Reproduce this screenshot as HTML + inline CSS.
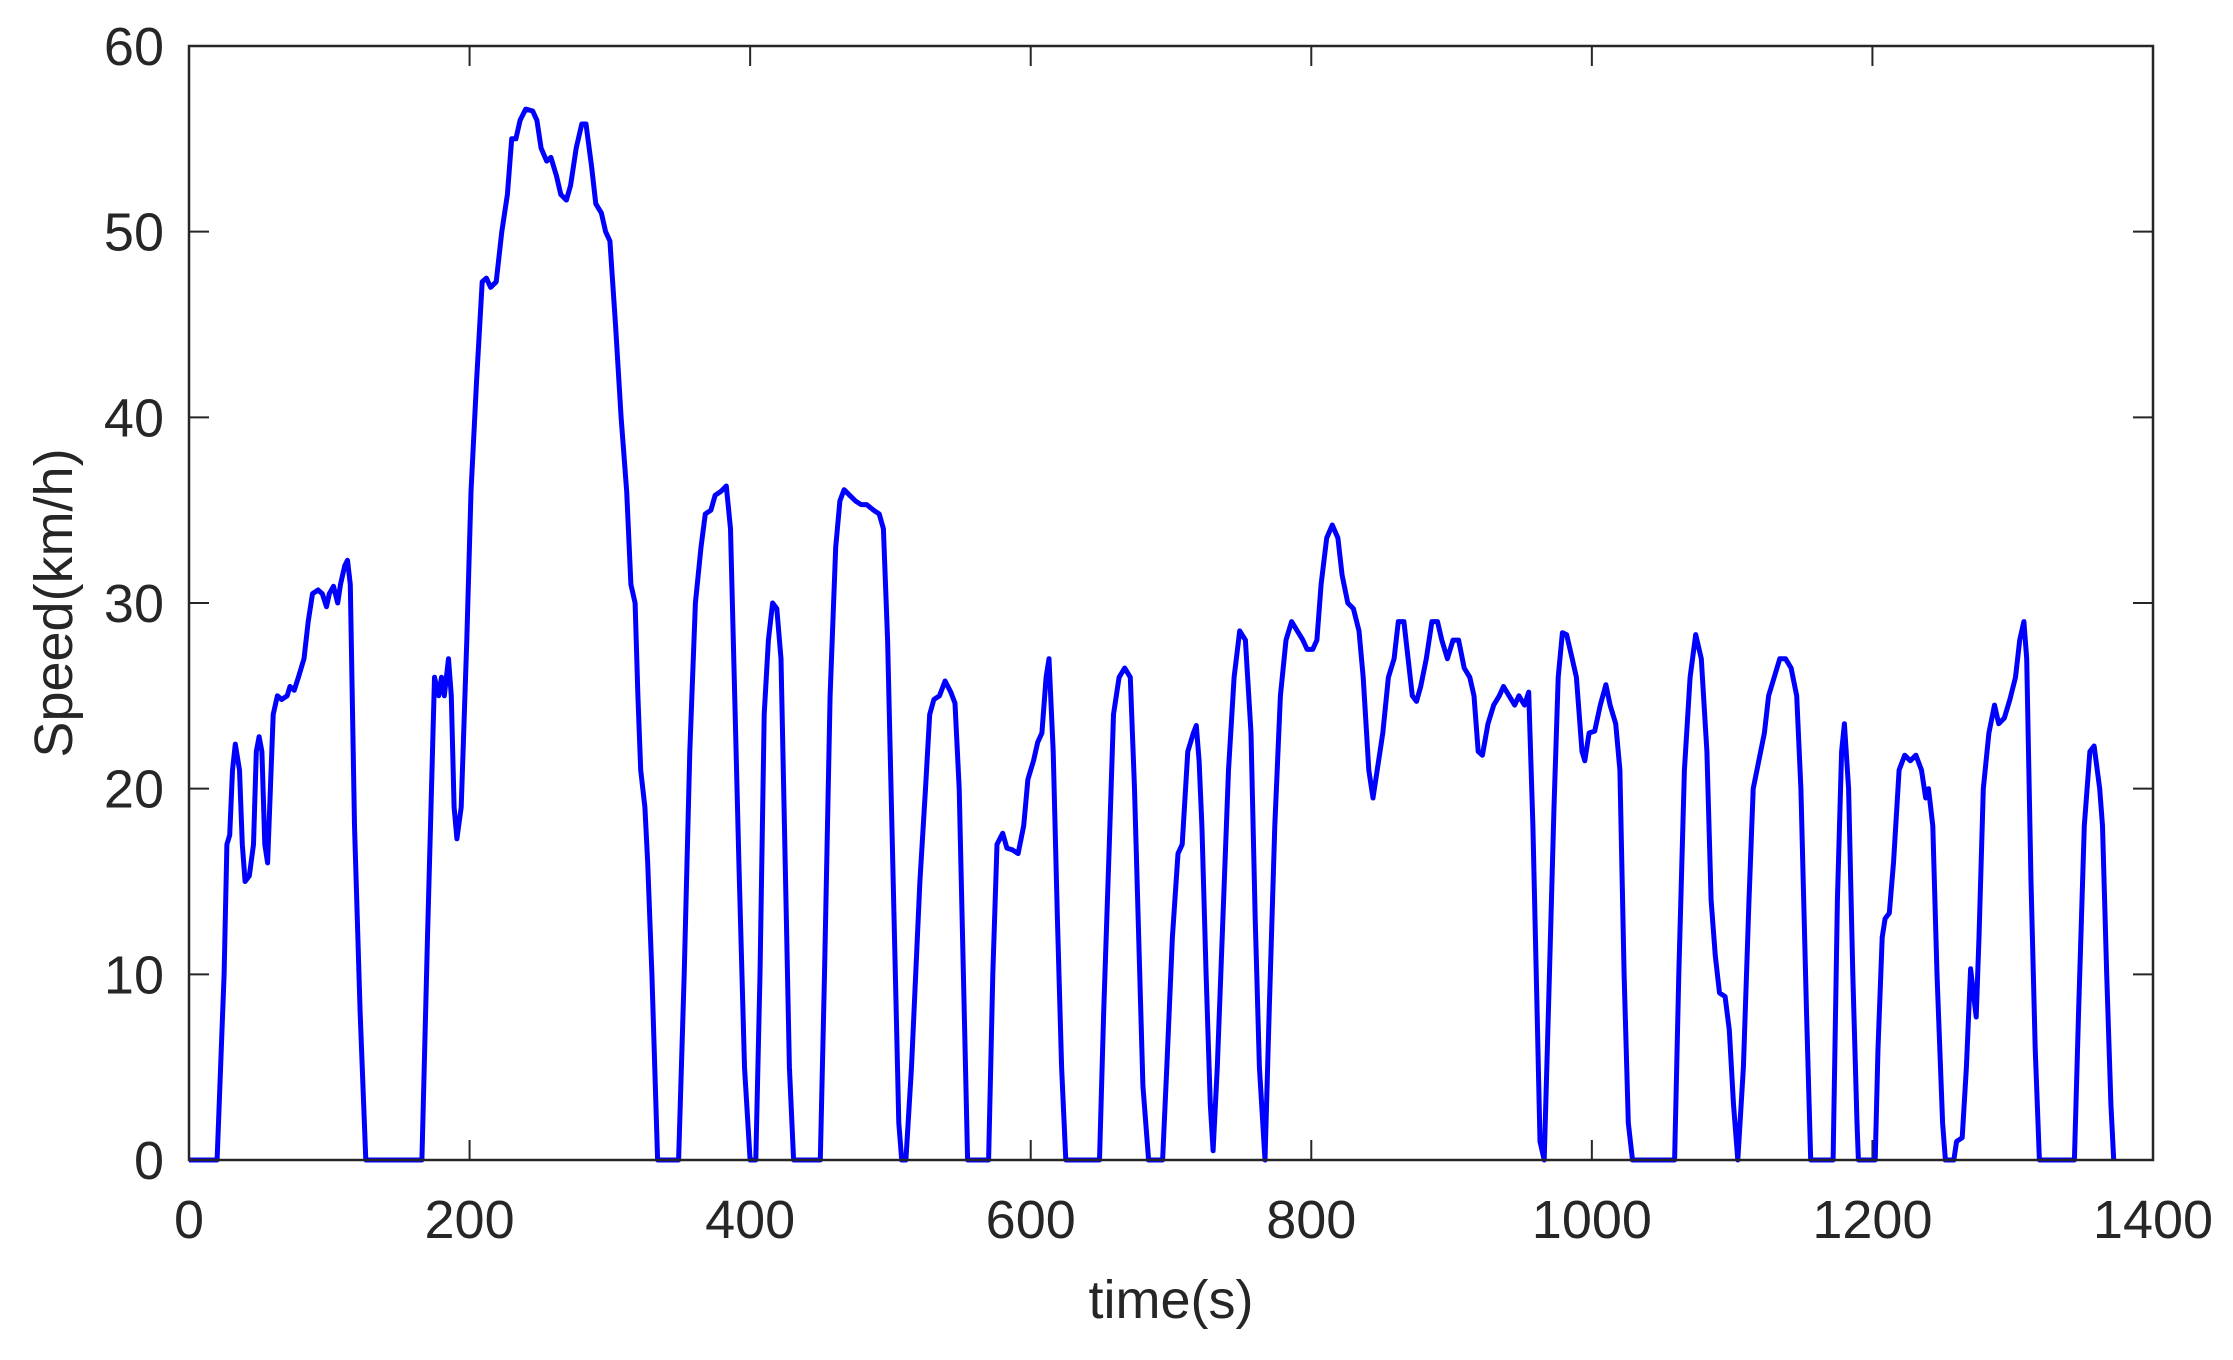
<!DOCTYPE html>
<html><head><meta charset="utf-8"><style>
html,body{margin:0;padding:0;background:#fff;}
svg{display:block;font-family:"Liberation Sans",Arial,sans-serif;}
</style></head><body>
<svg id="chart" width="2233" height="1360" viewBox="0 0 2233 1360" xmlns="http://www.w3.org/2000/svg">
<rect width="2233" height="1360" fill="#fff"/>
<g id="ticks"></g>
<path id="series" fill="none" stroke="#0000ff" stroke-width="5" stroke-linejoin="round"/>
<rect x="189" y="46" width="1964" height="1114" fill="none" stroke="#262626" stroke-width="2.5"/>
<text x="1171" y="1318" font-size="54" text-anchor="middle" fill="#262626">time(s)</text>
<text transform="translate(72,603) rotate(-90)" font-size="54" text-anchor="middle" fill="#262626">Speed(km/h)</text>
</svg>
<script>
const times=[0,20,25,27,29,31,33,36,38,40,43,46,48,50,52,54,56,58,60,63,66,70,72,75,78,82,85,88,92,95,98,100,103,106,108,111,113,115,118,122,126,166,170,175,178,180,182,185,187,189,191,194,198,201,205,209,212,215,219,223,227,230,233,236,240,245,248,251,255,258,262,265,269,272,276,280,283,287,290,294,297,300,304,308,312,315,318,320,322,325,327,330,334,349,353,357,361,365,368,372,375,379,383,386,389,392,396,400,404,407,410,413,416,419,422,425,428,431,450,453,457,461,464,467,471,475,479,483,488,492,495,498,502,506,508,511,515,518,521,525,528,531,535,539,543,546,549,552,555,570,573,576,580,583,587,591,595,598,602,605,608,611,613,616,619,622,625,649,652,656,659,663,667,671,674,677,680,684,694,697,701,705,708,712,716,718,720,722,725,728,730,733,737,741,745,749,753,757,760,763,767,770,774,778,782,786,790,794,797,801,804,807,811,815,819,822,826,830,834,837,841,844,847,851,855,859,862,866,869,872,875,878,882,886,890,893,897,901,905,909,913,916,919,922,926,930,934,937,941,945,948,952,955,958,961,963,966,969,973,976,979,982,986,989,993,995,998,1002,1006,1010,1013,1017,1020,1023,1026,1029,1059,1062,1066,1070,1074,1078,1082,1085,1088,1091,1095,1098,1101,1104,1108,1112,1115,1119,1123,1126,1130,1134,1138,1142,1146,1149,1153,1156,1172,1175,1178,1180,1183,1186,1189,1190,1202,1204,1207,1209,1212,1215,1219,1223,1227,1231,1235,1238,1240,1243,1246,1250,1252,1258,1260,1264,1267,1270,1272,1274,1276,1279,1283,1287,1290,1294,1298,1302,1305,1308,1310,1313,1316,1319,1344,1347,1351,1355,1358,1362,1364,1367,1370,1372];
const speeds=[0,0,10,17,17.5,21,22.4,21,17,15,15.3,17,22,22.8,22,17,16,20,24,25,24.8,25,25.5,25.3,26,27,29,30.5,30.7,30.5,29.8,30.5,30.9,30,31,32,32.3,31,18,8,0,0,12,26,25,26,25,27,25,19,17.3,19,28,36,42,47.3,47.5,47,47.3,50,52,55,55,56,56.6,56.5,56,54.5,53.8,54,53,52,51.7,52.5,54.5,55.8,55.8,53.5,51.5,51,50,49.5,45,40,36,31,30,25,21,19,16,10,0,0,10,22,30,33,34.8,35,35.8,36,36.3,34,25,16,5,0,0,10,24,28,30,29.7,27,16,5,0,0,10,25,33,35.5,36.1,35.8,35.5,35.3,35.3,35,34.8,34,28,15,2,0,0,5,10,15,20,24,24.8,25,25.8,25.2,24.6,20,10,0,0,10,17,17.6,16.8,16.7,16.5,18,20.5,21.5,22.5,23,26,27,22,13,5,0,0,8,17,24,26,26.5,26,20,12,4,0,0,5,12,16.5,17,22,23,23.4,21.5,18,10,3,0.5,5,13,21,26,28.5,28,23,13,5,0,8,18,25,28,29,28.5,28,27.5,27.5,28,31,33.5,34.2,33.5,31.5,30,29.7,28.5,26,21,19.5,21,23,26,27,29,29,27,25,24.7,25.5,27,29,29,28,27,28,28,26.5,26,25,22,21.8,23.5,24.5,25,25.5,25,24.5,25,24.5,25.2,18,8,1,0,8,19,26,28.4,28.3,27,26,22,21.5,23,23.1,24.5,25.6,24.5,23.5,21,10,2,0,0,10,21,26,28.3,27,22,14,11,9,8.8,7,3,0,5,14,20,21.5,23,25,26,27,27,26.5,25,20,8,0,0,14,22,23.5,20,10,2,0,0,6,12,13,13.3,16,21,21.8,21.5,21.8,21,19.5,20,18,10,2,0,0,1,1.2,5,10.3,9,7.7,12,20,23,24.5,23.5,23.8,24.8,26,28,29,27,15,6,0,0,8,18,22,22.3,20,18,10,3,0];
const xTicks=[0,200,400,600,800,1000,1200,1400];
const yTicks=[0,10,20,30,40,50,60];
const X0=189,X1=2153,Y0=1160,Y1=46;
const xs=t=>X0+(t-0)/(1400-0)*(X1-X0);
const ys=v=>Y0-(v-0)/(60-0)*(Y0-Y1);
const NS="http://www.w3.org/2000/svg";
const path=document.getElementById('series');
path.setAttribute('d',times.map((t,i)=>(i?'L':'M')+xs(t).toFixed(1)+','+ys(speeds[i]).toFixed(1)).join(''));
const g=document.getElementById('ticks');
function ln(x1,y1,x2,y2,name){const l=document.createElementNS(NS,'line');
l.setAttribute('x1',x1);l.setAttribute('y1',y1);l.setAttribute('x2',x2);l.setAttribute('y2',y2);
l.setAttribute('stroke','#262626');l.setAttribute('stroke-width','2');


g.appendChild(l);}
function tx(x,y,s,anchor,name){const t=document.createElementNS(NS,'text');
t.setAttribute('x',x);t.setAttribute('y',y);t.setAttribute('font-size','54');t.setAttribute('fill','#262626');t.setAttribute('text-anchor',anchor);t.textContent=s;


g.appendChild(t);}
xTicks.forEach(v=>{const x=xs(v);ln(x,Y0,x,Y0-20,'x-tick');ln(x,Y1,x,Y1+20,'x-tick-top');tx(x,Y0+78,String(v),'middle','x-tick-label');});
yTicks.forEach(v=>{const y=ys(v);ln(X0,y,X0+20,y,'y-tick');ln(X1,y,X1-20,y,'y-tick-right');tx(X0-25,y+19,String(v),'end','y-tick-label');});
</script>
</body></html>
